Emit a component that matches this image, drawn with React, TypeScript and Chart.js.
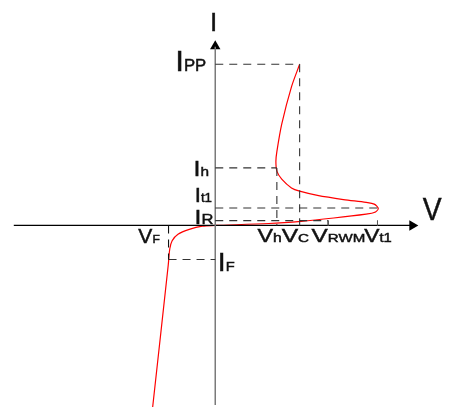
import React, { useEffect, useRef } from "react";
import { Chart, registerables } from "chart.js";

Chart.register(...registerables);

// Characteristic levels (I) and voltages (V), in drawing units relative to origin
const I_PP = 166;
const I_H = 59.3;
const I_T1 = 18;
const I_R = 5;
const I_F = -35;

const V_F = -48;
const V_H = 63.3;
const V_C = 86.7;
const V_RWM = 116;
const V_T1 = 166.7;

// Axis extents
const X_AXIS = [-207, 203];
const Y_AXIS = [-185, 184];
const ARROW_TIPS_V = [0, 202.5];
const ARROW_TIPS_I = [184.5, 0];

// I-V curve of the TVS device
const curveV = [
  -64.3, -48.3, -46.7, -44.3, -38.3, -26.7, -13.3, 0, 55, 88.3, 121.7, 155, 163.3, 167.5,
  163.3, 155, 131.7, 105, 86.7, 78.3, 68.3, 63.3, 62.3, 63.3, 68.3, 78.3, 86.7,
];
const curveI = [
  -187, -40.7, -24, -15.7, -9, -4, -0.7, 0, 2, 4.3, 7.7, 11.7, 13.3, 17.5,
  22, 23.7, 26.7, 31, 35.3, 38.7, 47.7, 56, 66, 76, 104.3, 142.7, 166,
];

// Text labels: main letter + subscript
const labelMain = ["I", "I", "I", "I", "I", "V", "I", "V", "V", "V", "V", "V"];
const labelSub = ["", "PP", "h", "t1", "R", "F", "F", "h", "C", "RWM", "t1", ""];

const LABEL_LAYOUT = [
  { left: -3.3, right: null, base: 200, main: 26, sub: 14 },
  { left: -39, right: -10, base: 159.3, main: 30, sub: 16 },
  { left: -20, right: -7, base: 51, main: 22, sub: 13.5 },
  { left: -20, right: -3.3, base: 24, main: 21, sub: 12.5 },
  { left: -20, right: -2, base: 2, main: 21, sub: 14 },
  { left: -79, right: -57, base: -18, main: 20, sub: 11.5 },
  { left: 5, right: 20, base: -47, main: 25, sub: 13 },
  { left: 43.3, right: 68.3, base: -16.7, main: 18.6, sub: 12.5 },
  { left: 68.3, right: 96, base: -16.7, main: 18.6, sub: 11.5 },
  { left: 99, right: 153.3, base: -16.7, main: 18.6, sub: 11.5 },
  { left: 153, right: 181.7, base: -16.7, main: 18.6, sub: 12 },
  { left: 213.3, right: 233.3, base: 6, main: 32, sub: 14 },
];

const FONT = '"Liberation Sans", Arial, sans-serif';

const labelPlugin = {
  id: "ivLabels",
  afterDatasetsDraw(chart: any) {
    const ctx = chart.ctx as CanvasRenderingContext2D;
    const xs = chart.scales.x;
    const ys = chart.scales.y;
    ctx.save();
    ctx.fillStyle = "#111";
    ctx.strokeStyle = "#111";
    ctx.lineWidth = 0.45;
    ctx.textBaseline = "alphabetic";
    ctx.textAlign = "left";
    labelMain.forEach((m, i) => {
      const L = LABEL_LAYOUT[i];
      const sub = labelSub[i];
      ctx.font = `${L.main}px ${FONT}`;
      const mm = ctx.measureText(m);
      const mainAdv = mm.width;
      const mL = mm.actualBoundingBoxLeft;
      let endR = mm.actualBoundingBoxRight;
      if (sub) {
        ctx.font = `${L.sub}px ${FONT}`;
        const sm = ctx.measureText(sub);
        endR = mainAdv + sm.actualBoundingBoxRight;
      }
      const leftPx = xs.getPixelForValue(L.left);
      let s = 1;
      if (L.right !== null) {
        const rightPx = xs.getPixelForValue(L.right);
        s = (rightPx - leftPx) / (mL + endR);
      }
      const x0 = leftPx + s * mL;
      const by = ys.getPixelForValue(L.base);
      ctx.save();
      ctx.translate(x0, by);
      ctx.scale(s, 1);
      ctx.font = `${L.main}px ${FONT}`;
      ctx.fillText(m, 0, 0);
      ctx.strokeText(m, 0, 0);
      if (sub) {
        ctx.font = `${L.sub}px ${FONT}`;
        ctx.fillText(sub, mainAdv, 0);
        ctx.strokeText(sub, mainAdv, 0);
      }
      ctx.restore();
    });
    ctx.restore();
  },
};

function seg(x1: number, y1: number, x2: number, y2: number, color: string, width: number, dash: number[] = []) {
  return {
    type: "scatter" as const,
    data: [
      { x: x1, y: y1 },
      { x: x2, y: y2 },
    ],
    showLine: true,
    borderColor: color,
    borderWidth: width,
    borderDash: dash,
    pointRadius: 0,
    tension: 0,
  };
}

export default function App() {
  const ref = useRef<HTMLCanvasElement | null>(null);
  useEffect(() => {
    document.body.style.margin = "0";
    document.body.style.overflow = "hidden";
    if (!ref.current) return;
    const dash = [8, 6];
    const dc = "#333";
    const datasets: any[] = [
      // guide lines
      seg(0, I_PP, V_C, I_PP, dc, 1.1, dash),
      seg(V_C, I_PP, V_C, 0, dc, 1.1, dash),
      seg(0, I_H, V_H, I_H, dc, 1.1, dash),
      seg(V_H, I_H, V_H, 0, dc, 1.1, dash),
      seg(0, I_T1, V_T1, I_T1, dc, 1.1, dash),
      seg(0, I_R, V_RWM, I_R, dc, 1.1, dash),
      seg(V_RWM, I_R, V_RWM, 0, "#555", 1),
      seg(V_T1, I_R, V_T1, 0, "#555", 1),
      seg(V_F, 0, V_F, I_F, "#111", 1.1, dash),
      seg(V_F, I_F, 0, I_F, dc, 1.1, dash),
      // axes
      seg(0, Y_AXIS[0], 0, Y_AXIS[1], "#7a7a7a", 1.5),
      seg(X_AXIS[0], 0, X_AXIS[1], 0, "#000", 1.2),
      {
        type: "scatter",
        data: ARROW_TIPS_V.map((v, i) => ({ x: v, y: ARROW_TIPS_I[i] })),
        pointStyle: "triangle",
        pointRadius: 6,
        rotation: [0, 90],
        backgroundColor: "#000",
        borderColor: "#000",
        borderWidth: 0,
        showLine: false,
      },
      // curve
      {
        type: "scatter",
        data: curveV.map((v, i) => ({ x: v, y: curveI[i] })),
        showLine: true,
        borderColor: "#ff0000",
        borderWidth: 1.2,
        pointRadius: 0,
        tension: 0.3,
      },
    ];
    const chart = new Chart(ref.current, {
      type: "scatter",
      data: { datasets },
      options: {
        animation: false,
        responsive: false,
        events: [],
        layout: { padding: 0 },
        plugins: { legend: { display: false }, tooltip: { enabled: false } },
        scales: {
          x: { type: "linear", display: false, min: -215, max: 234 },
          y: { type: "linear", display: false, min: -189, max: 226 },
        },
      },
      plugins: [labelPlugin],
    });
    return () => chart.destroy();
  }, []);
  return (
    <div style={{ width: 449, height: 415, background: "#fff" }}>
      <canvas ref={ref} width={449} height={415} style={{ display: "block" }} />
    </div>
  );
}
